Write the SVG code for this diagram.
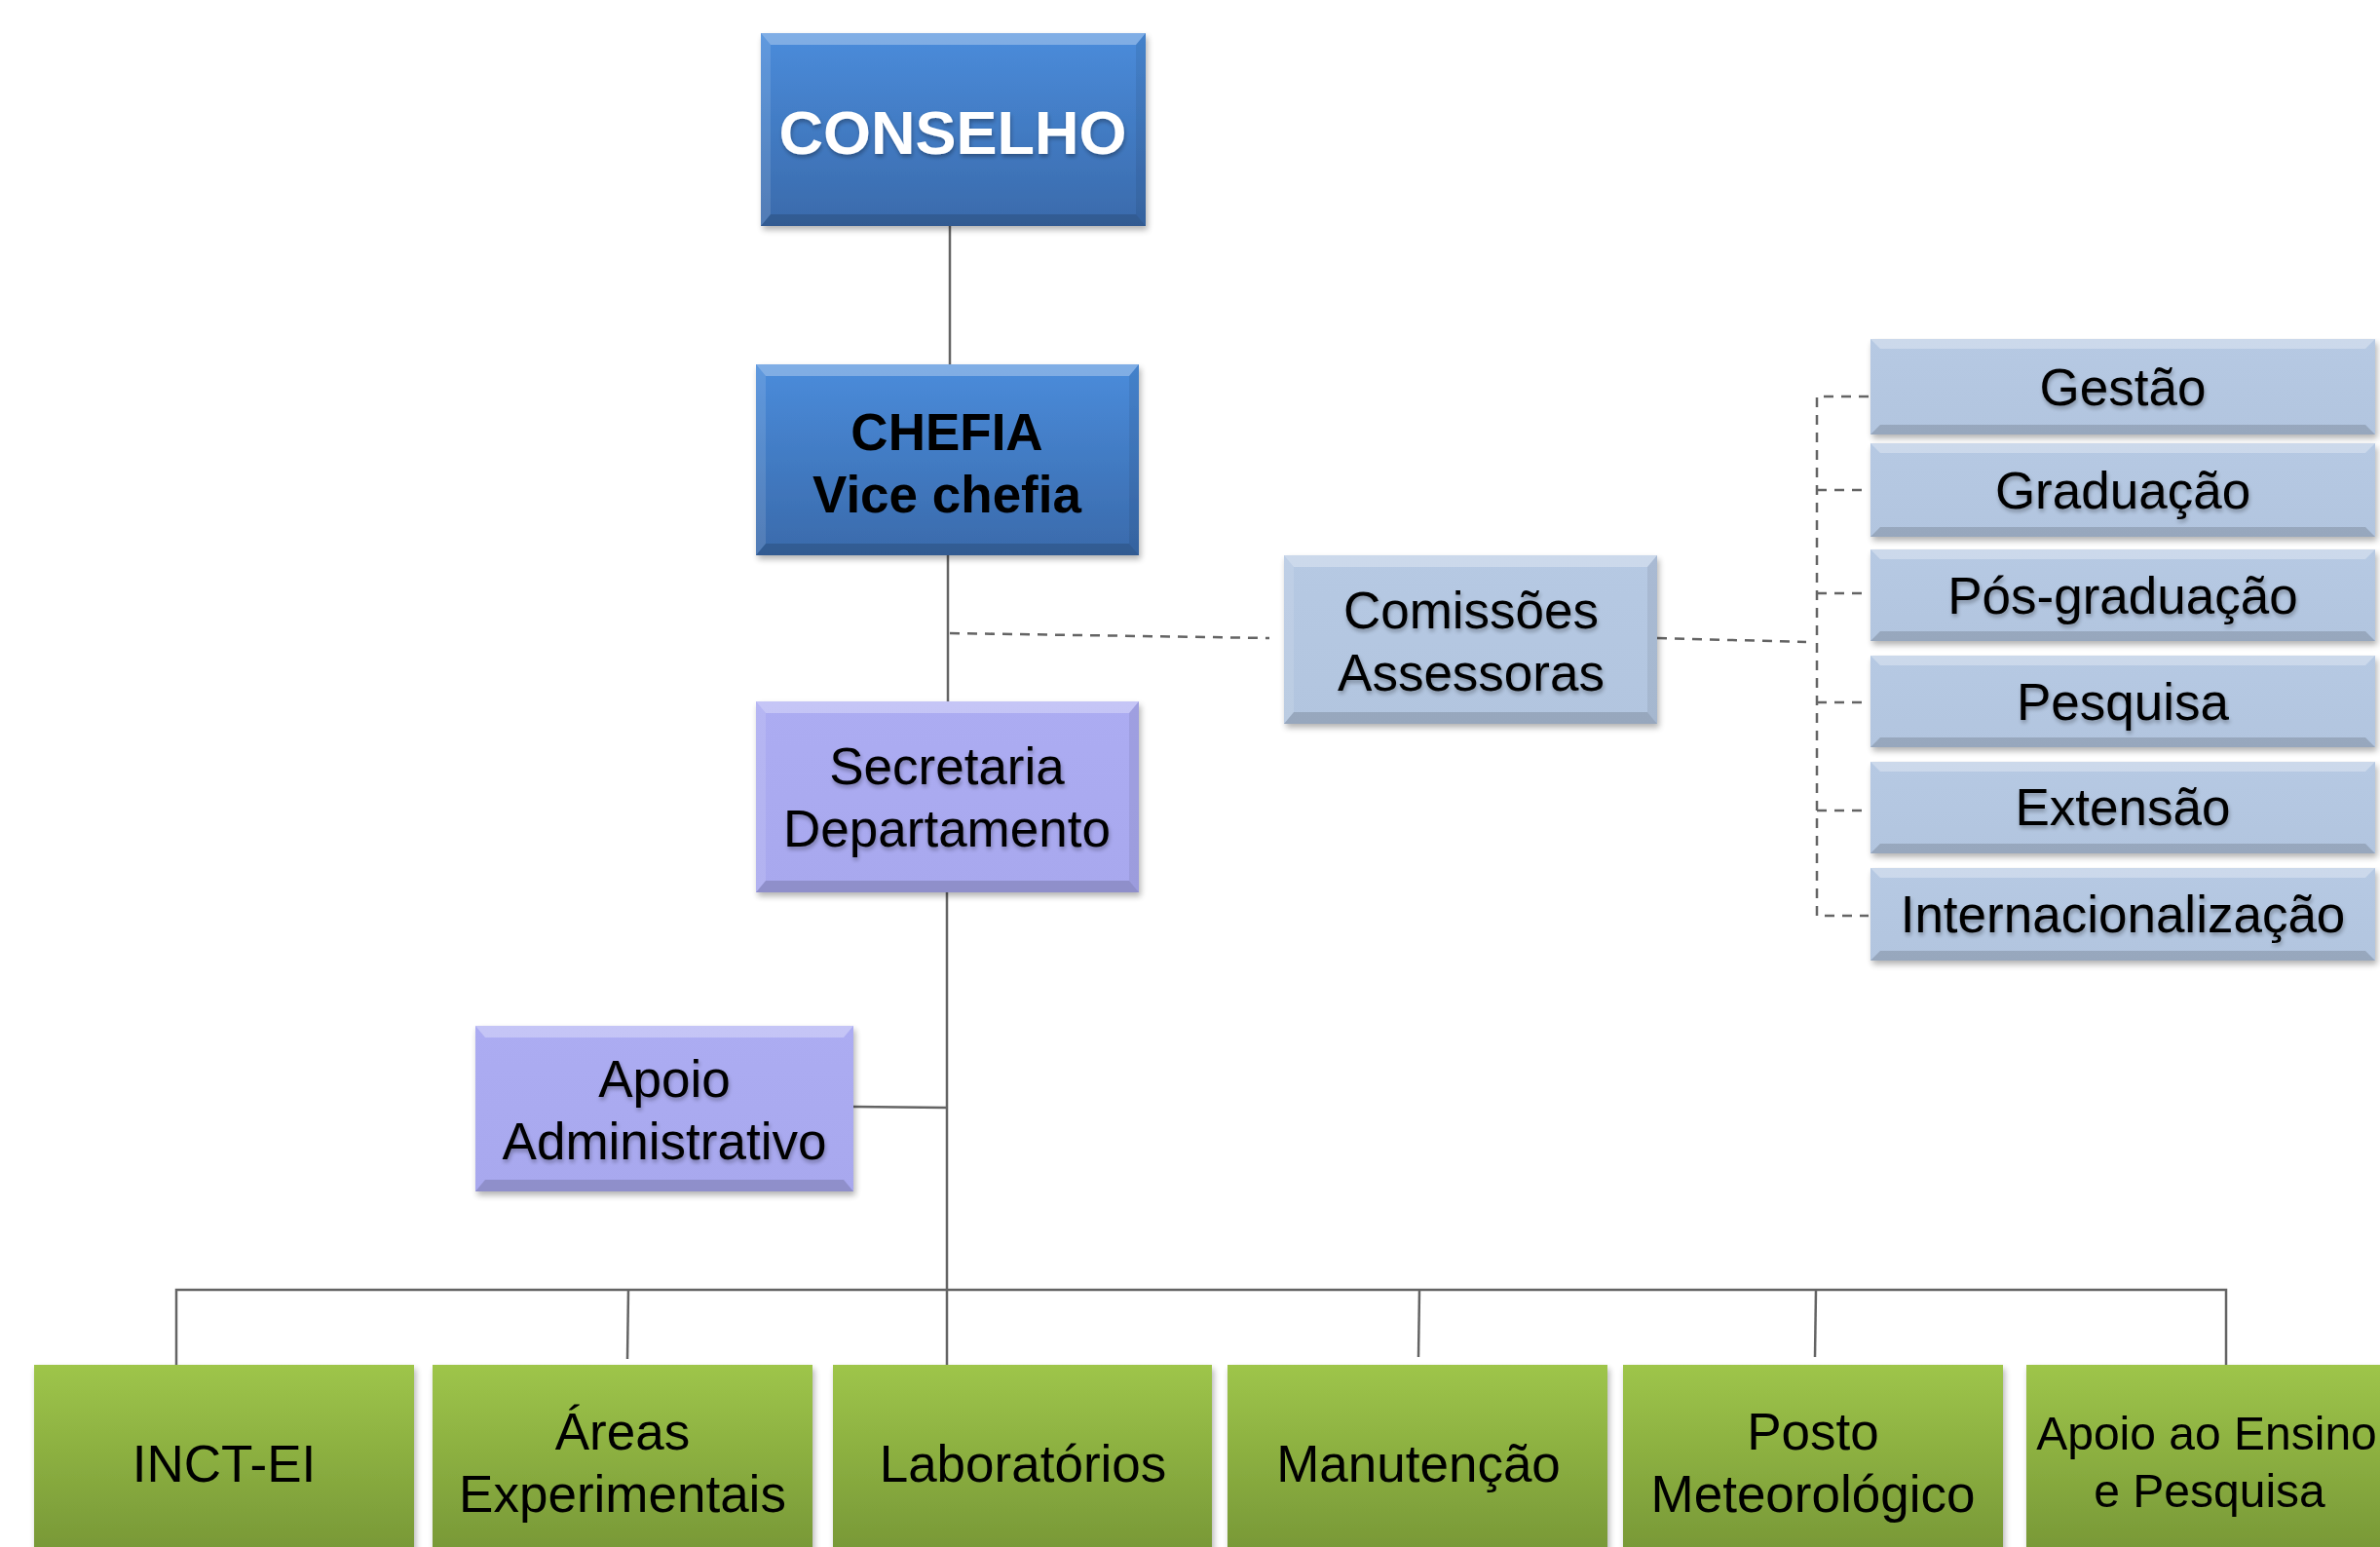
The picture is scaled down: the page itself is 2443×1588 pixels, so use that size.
<svg xmlns="http://www.w3.org/2000/svg" width="2443" height="1588" viewBox="0 0 2443 1588">
<defs>
<linearGradient id="gBlue" x1="0" y1="0" x2="0" y2="1"><stop offset="0" stop-color="#4a8cdb"/><stop offset="1" stop-color="#3a6aab"/></linearGradient>
<linearGradient id="gPurple" x1="0" y1="0" x2="0" y2="1"><stop offset="0" stop-color="#acacf2"/><stop offset="1" stop-color="#a8a8ee"/></linearGradient>
<linearGradient id="gLight" x1="0" y1="0" x2="0" y2="1"><stop offset="0" stop-color="#b6c9e3"/><stop offset="1" stop-color="#b2c5df"/></linearGradient>
<linearGradient id="gGreen" x1="0" y1="0" x2="0" y2="1"><stop offset="0" stop-color="#9ec54a"/><stop offset="1" stop-color="#769636"/></linearGradient>
<filter id="sh" x="-5%" y="-5%" width="115%" height="125%"><feGaussianBlur in="SourceAlpha" stdDeviation="3"/><feOffset dx="2" dy="4"/><feComponentTransfer><feFuncA type="linear" slope="0.3"/></feComponentTransfer><feMerge><feMergeNode/><feMergeNode in="SourceGraphic"/></feMerge></filter>
<filter id="tsh" x="-5%" y="-10%" width="110%" height="130%"><feGaussianBlur in="SourceAlpha" stdDeviation="2"/><feOffset dx="1" dy="3"/><feComponentTransfer><feFuncA type="linear" slope="0.3"/></feComponentTransfer><feMerge><feMergeNode/><feMergeNode in="SourceGraphic"/></feMerge></filter>
</defs>
<style>
text{font-family:"Liberation Sans",Arial,sans-serif;text-anchor:middle;font-size:53px;fill:#000}
.b{font-weight:bold}
.w{fill:#fff}
.big{font-size:63px}
.sm{font-size:48px}
.line{stroke:#646464;stroke-width:2.5;fill:none}
.dash{stroke:#646464;stroke-width:2.5;fill:none;stroke-dasharray:10 8}
.bvT{fill:#fff;opacity:.3}
.bvL{fill:#fff;opacity:.12}
.bvB{fill:#000;opacity:.15}
.bvR{fill:#000;opacity:.07}
</style>

<g id="connectors">
<line class="line" x1="975" y1="232" x2="975" y2="374"/>
<line class="line" x1="973" y1="570" x2="973" y2="720"/>
<line class="dash" x1="975" y1="650" x2="1303" y2="655"/>
<line class="dash" x1="1701" y1="655" x2="1854" y2="659"/>
<polyline class="dash" points="1918,407 1865,407 1865,940 1918,940"/>
<line class="dash" x1="1865" y1="503" x2="1918" y2="503"/>
<line class="dash" x1="1865" y1="609" x2="1918" y2="609"/>
<line class="dash" x1="1865" y1="721" x2="1918" y2="721"/>
<line class="dash" x1="1865" y1="832" x2="1918" y2="832"/>
<line class="line" x1="972" y1="916" x2="972" y2="1401"/>
<line class="line" x1="876" y1="1136" x2="971" y2="1137"/>
<polyline class="line" points="181,1401 181,1324 2285,1324 2285,1401"/>
<line class="line" x1="645" y1="1324" x2="644" y2="1395"/>
<line class="line" x1="1457" y1="1324" x2="1456" y2="1393"/>
<line class="line" x1="1864" y1="1324" x2="1863" y2="1393"/>
</g>

<g id="n-conselho" filter="url(#sh)">
<rect x="781" y="34" width="395" height="198" fill="url(#gBlue)"/>
<polygon class="bvT" points="781,34 1176,34 1166,46 791,46"/>
<polygon class="bvL" points="781,34 791,46 791,220 781,232"/>
<polygon class="bvB" points="781,232 791,220 1166,220 1176,232"/>
<polygon class="bvR" points="1176,34 1166,46 1166,220 1176,232"/>
<text class="b w big" x="978" y="158" filter="url(#tsh)">CONSELHO</text>
</g>

<g id="n-chefia" filter="url(#sh)">
<rect x="776" y="374" width="393" height="196" fill="url(#gBlue)"/>
<polygon class="bvT" points="776,374 1169,374 1159,386 786,386"/>
<polygon class="bvL" points="776,374 786,386 786,558 776,570"/>
<polygon class="bvB" points="776,570 786,558 1159,558 1169,570"/>
<polygon class="bvR" points="1169,374 1159,386 1159,558 1169,570"/>
<text class="b" x="972" y="462">CHEFIA</text>
<text class="b" x="972" y="526">Vice chefia</text>
</g>

<g id="n-secretaria" filter="url(#sh)">
<rect x="776" y="720" width="393" height="196" fill="url(#gPurple)"/>
<polygon class="bvT" points="776,720 1169,720 1159,732 786,732"/>
<polygon class="bvL" points="776,720 786,732 786,904 776,916"/>
<polygon class="bvB" points="776,916 786,904 1159,904 1169,916"/>
<polygon class="bvR" points="1169,720 1159,732 1159,904 1169,916"/>
<text x="972" y="805" filter="url(#tsh)">Secretaria</text>
<text x="972" y="869" filter="url(#tsh)">Departamento</text>
</g>

<g id="n-comissoes" filter="url(#sh)">
<rect x="1318" y="570" width="383" height="173" fill="url(#gLight)"/>
<polygon class="bvT" points="1318,570 1701,570 1691,582 1328,582"/>
<polygon class="bvL" points="1318,570 1328,582 1328,731 1318,743"/>
<polygon class="bvB" points="1318,743 1328,731 1691,731 1701,743"/>
<polygon class="bvR" points="1701,570 1691,582 1691,731 1701,743"/>
<text x="1510" y="645" filter="url(#tsh)">Comissões</text>
<text x="1510" y="709" filter="url(#tsh)">Assessoras</text>
</g>

<g id="n-gestao" filter="url(#sh)">
<rect x="1920" y="348" width="518" height="98" fill="url(#gLight)"/>
<polygon class="bvT" points="1920,348 2438,348 2428,358 1930,358"/>
<polygon class="bvB" points="1920,446 1930,436 2428,436 2438,446"/>
<text x="2179" y="416" filter="url(#tsh)">Gestão</text>
</g>
<g id="n-graduacao" filter="url(#sh)">
<rect x="1920" y="455" width="518" height="96" fill="url(#gLight)"/>
<polygon class="bvT" points="1920,455 2438,455 2428,465 1930,465"/>
<polygon class="bvB" points="1920,551 1930,541 2428,541 2438,551"/>
<text x="2179" y="522" filter="url(#tsh)">Graduação</text>
</g>
<g id="n-posgraduacao" filter="url(#sh)">
<rect x="1920" y="564" width="518" height="94" fill="url(#gLight)"/>
<polygon class="bvT" points="1920,564 2438,564 2428,574 1930,574"/>
<polygon class="bvB" points="1920,658 1930,648 2428,648 2438,658"/>
<text x="2179" y="630" filter="url(#tsh)">Pós-graduação</text>
</g>
<g id="n-pesquisa" filter="url(#sh)">
<rect x="1920" y="673" width="518" height="94" fill="url(#gLight)"/>
<polygon class="bvT" points="1920,673 2438,673 2428,683 1930,683"/>
<polygon class="bvB" points="1920,767 1930,757 2428,757 2438,767"/>
<text x="2179" y="739" filter="url(#tsh)">Pesquisa</text>
</g>
<g id="n-extensao" filter="url(#sh)">
<rect x="1920" y="782" width="518" height="94" fill="url(#gLight)"/>
<polygon class="bvT" points="1920,782 2438,782 2428,792 1930,792"/>
<polygon class="bvB" points="1920,876 1930,866 2428,866 2438,876"/>
<text x="2179" y="847" filter="url(#tsh)">Extensão</text>
</g>
<g id="n-internacionalizacao" filter="url(#sh)">
<rect x="1920" y="891" width="518" height="95" fill="url(#gLight)"/>
<polygon class="bvT" points="1920,891 2438,891 2428,901 1930,901"/>
<polygon class="bvB" points="1920,986 1930,976 2428,976 2438,986"/>
<text x="2179" y="957" filter="url(#tsh)">Internacionalização</text>
</g>

<g id="n-apoio-adm" filter="url(#sh)">
<rect x="488" y="1053" width="388" height="170" fill="url(#gPurple)"/>
<polygon class="bvT" points="488,1053 876,1053 866,1065 498,1065"/>
<polygon class="bvB" points="488,1223 498,1211 866,1211 876,1223"/>
<text x="682" y="1126" filter="url(#tsh)">Apoio</text>
<text x="682" y="1190" filter="url(#tsh)">Administrativo</text>
</g>

<g id="n-inct" filter="url(#sh)">
<rect x="35" y="1401" width="390" height="200" fill="url(#gGreen)"/>
<text x="230" y="1521">INCT-EI</text>
</g>
<g id="n-areas" filter="url(#sh)">
<rect x="444" y="1401" width="390" height="200" fill="url(#gGreen)"/>
<text x="639" y="1488">Áreas</text>
<text x="639" y="1552">Experimentais</text>
</g>
<g id="n-laboratorios" filter="url(#sh)">
<rect x="855" y="1401" width="389" height="200" fill="url(#gGreen)"/>
<text x="1050" y="1521">Laboratórios</text>
</g>
<g id="n-manutencao" filter="url(#sh)">
<rect x="1260" y="1401" width="390" height="200" fill="url(#gGreen)"/>
<text x="1456" y="1521">Manutenção</text>
</g>
<g id="n-posto" filter="url(#sh)">
<rect x="1666" y="1401" width="390" height="200" fill="url(#gGreen)"/>
<text x="1861" y="1488">Posto</text>
<text x="1861" y="1552">Meteorológico</text>
</g>
<g id="n-apoio-ensino" filter="url(#sh)">
<rect x="2080" y="1401" width="400" height="200" fill="url(#gGreen)"/>
<text class="sm" x="2265" y="1488">Apoio ao Ensino</text>
<text class="sm" x="2268" y="1547">e Pesquisa</text>
</g>
</svg>
